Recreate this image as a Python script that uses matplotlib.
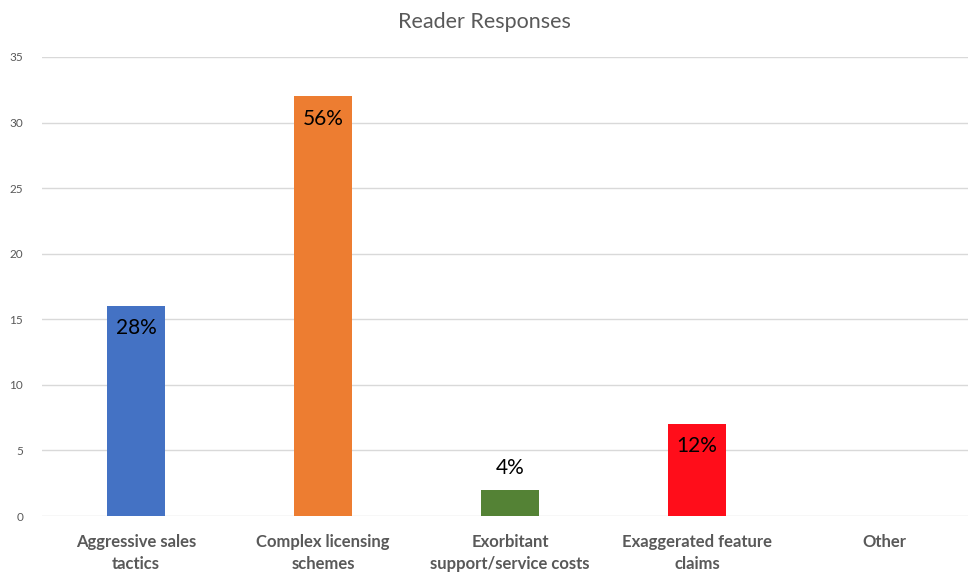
import matplotlib.pyplot as plt

categories = ["Aggressive sales\ntactics", "Complex licensing\nschemes",
              "Exorbitant\nsupport/service costs", "Exaggerated feature\nclaims", "Other"]
counts = [16, 32, 2, 7, 0]
pct_labels = ["28%", "56%", "4%", "12%", ""]
bar_colors = ["#4472C4", "#ED7D31", "#548235", "#FF0D1A", "#A5A5A5"]
label_inside = [True, True, False, True, False]

plt.rcParams['font.family'] = ['Lato', 'DejaVu Sans']

fig = plt.figure(figsize=(9.68, 5.74), dpi=100)
ax = fig.add_axes([0.0439, 0.101, 0.9561, 0.7997])

x = list(range(len(categories)))
ax.bar(x, counts, width=0.31, color=bar_colors, zorder=2)

for xi, c, lab, inside in zip(x, counts, pct_labels, label_inside):
    if not lab:
        continue
    if inside:
        ax.annotate(lab, (xi, c), xytext=(0, -16), textcoords="offset points",
                    ha="center", va="center", fontsize=15, color="black")
    else:
        ax.annotate(lab, (xi, c), xytext=(0, 16), textcoords="offset points",
                    ha="center", va="center", fontsize=15, color="black")

ax.set_ylim(0, 35)
ax.set_xlim(-0.5, -0.5 + (968 - 42.5) / 187)
ax.set_yticks(range(0, 36, 5))
ax.yaxis.grid(True, color="#D9D9D9", linewidth=1, zorder=0)
ax.set_axisbelow(True)
for s in ax.spines.values():
    s.set_visible(False)
ax.tick_params(axis="both", length=0)
ax.tick_params(axis="y", labelsize=8.5, labelcolor="#595959", pad=14)
ax.set_xticks(x)
ax.set_xticklabels(categories, fontsize=12, fontweight="bold", color="#595959",
                   linespacing=1.45)
ax.tick_params(axis="x", pad=13)

fig.text(0.5, 0.962, "Reader Responses", ha="center", va="center", fontsize=15.5, color="#595959")

fig.savefig("out.png", dpi=100)
